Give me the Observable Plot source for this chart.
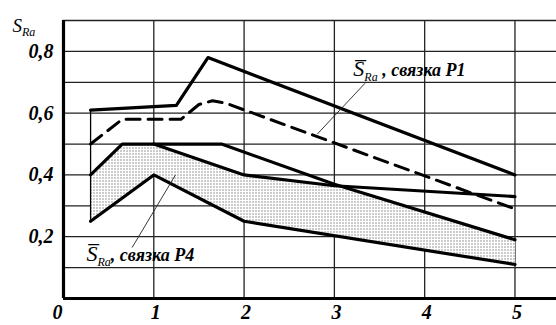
<!DOCTYPE html>
<html><head><meta charset="utf-8">
<script src="https://cdn.jsdelivr.net/npm/d3@7"></script>
<script src="https://cdn.jsdelivr.net/npm/@observablehq/plot@0.6"></script>
<style>
html,body{margin:0;padding:0;background:#fff;}
svg{display:block;}
svg text{font-family:"Liberation Serif","Times New Roman",serif !important;}
</style>
</head><body>
<div id="chart"></div>
<script>
// Series (x = parameter, y = S_Ra)
const topLine    = [{x:0.3,y:0.61},{x:1.25,y:0.625},{x:1.6,y:0.78},{x:5,y:0.40}];
const meanP1     = [{x:0.3,y:0.50},{x:0.65,y:0.58},{x:1.3,y:0.58},{x:1.5,y:0.628},{x:1.65,y:0.64},{x:1.8,y:0.632},{x:5,y:0.29}];
const upperMid   = [{x:0.3,y:0.40},{x:0.65,y:0.50},{x:1.75,y:0.50},{x:3,y:0.37},{x:5,y:0.19}];
const midLine    = [{x:1,y:0.50},{x:2,y:0.40},{x:3,y:0.365},{x:5,y:0.33}];
const bottomLine = [{x:0.3,y:0.25},{x:1,y:0.40},{x:2,y:0.25},{x:5,y:0.11}];
const bandTop    = [{x:0.3,y:0.40},{x:0.65,y:0.50},{x:1,y:0.50},{x:2,y:0.40},{x:3,y:0.365},{x:5,y:0.19}];
const band = bandTop.concat(bottomLine.slice().reverse());

const xTicks = [1,2,3,4,5];
const yTicks = [0.2,0.4,0.6,0.8];
const xGrid = [1,2,3,4,5];
const yGrid = [0.1,0.2,0.3,0.4,0.5,0.6,0.7,0.8,0.9];
const startX = [0.3];

const annotations = [
  {x:3.21, y:0.72, key:"ANN1", sub:"Ra", rest:" , связка P1"},
  {x:0.255, y:0.123, key:"ANN2", sub:"Ra", rest:", связка P4"}
];
const yLabel = ["YLAB"];
const leaders = [
  {x1:3.34, y1:0.697, x2:2.81, y2:0.532},
  {x1:0.76, y1:0.165, x2:1.24, y2:0.40}
];

const font = "Liberation Serif";
const fmt = d => String(d).replace(".", ",");
const tickStyle = {tickSize: 0, tickFormat: fmt, fontSize: 20, fontWeight: "bold", fontStyle: "italic", fontFamily: font, label: null};

const chart = Plot.plot({
  width: 556, height: 325,
  marginLeft: 63, marginRight: 0, marginTop: 20, marginBottom: 27,
  style: {fontFamily: font, background: "#fff", color: "#000"},
  x: {domain: [0, 5.46]},
  y: {domain: [0, 0.9]},
  marks: [
    Plot.ruleY(yGrid, {stroke: "#222", strokeWidth: 1.3}),
    Plot.ruleX(xGrid, {stroke: "#222", strokeWidth: 1.3}),
    Plot.line(band, {x: "x", y: "y", fill: "url(#dots)", stroke: "none"}),
    Plot.ruleX(startX, {y1: 0.25, y2: 0.61, stroke: "#000", strokeWidth: 1.3}),
    Plot.line(topLine, {x: "x", y: "y", stroke: "#000", strokeWidth: 3.2}),
    Plot.line(meanP1, {x: "x", y: "y", stroke: "#000", strokeWidth: 3, strokeDasharray: "14,8"}),
    Plot.line(upperMid, {x: "x", y: "y", stroke: "#000", strokeWidth: 3.2}),
    Plot.line(midLine, {x: "x", y: "y", stroke: "#000", strokeWidth: 3.2}),
    Plot.line(bottomLine, {x: "x", y: "y", stroke: "#000", strokeWidth: 3.2}),
    Plot.link(leaders, {x1: "x1", y1: "y1", x2: "x2", y2: "y2", stroke: "#222", strokeWidth: 0.9}),
    Plot.ruleX([0], {stroke: "#000", strokeWidth: 3.2}),
    Plot.ruleY([0], {stroke: "#000", strokeWidth: 3.2}),
    Plot.axisX(xTicks, {...tickStyle, tickPadding: 6, dx: 2}),
    Plot.axisX([0], {...tickStyle, tickPadding: 6, dx: -6}),
    Plot.axisY(yTicks, {...tickStyle, tickPadding: 10}),
    Plot.text(annotations, {x: "x", y: "y", text: "key", textAnchor: "start", lineAnchor: "bottom", fontSize: 18, fontFamily: font}),
    Plot.text(yLabel, {frameAnchor: "top-left", dx: -51, dy: 11, textAnchor: "start", lineAnchor: "bottom", fontSize: 18, fontFamily: font})
  ]
});

document.getElementById("chart").appendChild(chart);

const svg = d3.select(chart);
const defs = svg.insert("defs", ":first-child");
const pat = defs.append("pattern").attr("id", "dots").attr("patternUnits", "userSpaceOnUse")
  .attr("width", 3).attr("height", 3);
pat.append("rect").attr("width", 3).attr("height", 3).attr("fill", "#fff");
pat.append("rect").attr("width", 1).attr("height", 1).attr("fill", "#333");

svg.selectAll("text").each(function() {
  const t = d3.select(this);
  const s = this.textContent;
  const a = annotations.find(d => d.key === s);
  if (a) {
    t.text(null);
    t.append("tspan").text("S\u0305").attr("font-size", 22).attr("font-style", "italic");
    t.append("tspan").text(a.sub).attr("font-size", 12).attr("font-style", "italic").attr("dy", 5);
    t.append("tspan").text(a.rest).attr("font-size", 18).attr("font-weight", "bold").attr("font-style", "italic").attr("dy", -5);
  } else if (s === "YLAB") {
    t.text(null);
    t.append("tspan").text("S").attr("font-size", 19).attr("font-style", "italic");
    t.append("tspan").text("Ra").attr("font-size", 12).attr("font-style", "italic").attr("dy", 4);
  }
});
</script>
</body></html>
